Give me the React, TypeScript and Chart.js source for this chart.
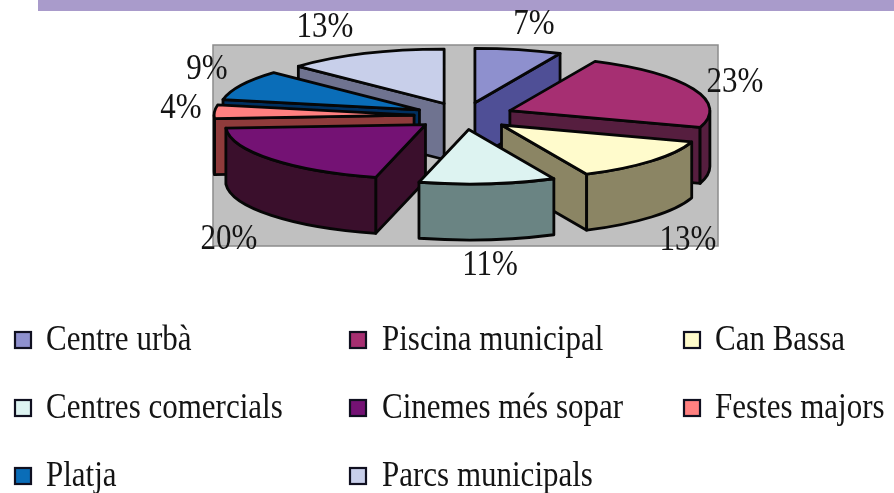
import React, { useEffect, useRef } from "react";
import { Chart, registerables } from "chart.js";

Chart.register(...registerables);

const categories = ["Centre urbà", "Piscina municipal", "Can Bassa", "Centres comercials", "Cinemes més sopar", "Festes majors", "Platja", "Parcs municipals"];
const shares = [7, 23, 13, 11, 20, 4, 9, 13];
const topColors = ["#8E90CE", "#A62F72", "#FFFBCC", "#DDF3F1", "#741274", "#FF8080", "#0A6DB8", "#C8CFEA"];
const sideColors = ["#4F4F96", "#561E3F", "#8B8564", "#6A8483", "#3A0F2C", "#8F3B3B", "#003060", "#6F7390"];
const drawOrder = [7, 0, 6, 5, 1, 4, 2, 3];

const labelCentres = [[534, 25], [735, 83], [688, 241], [490, 266], [229, 240], [181, 109], [207, 70], [325, 28]];
const markerColumns = [15, 350, 684];
const textColumns = [46, 382, 715];
const legendRows = [340, 408, 476];

const TILT = 0.272;
const EXPLODE = 50;
const DEPTH = 56;
const TEXT_FONT = '31px "Liberation Serif"';
const TEXT_STRETCH = 1.14;

function edgeQuad(ctx: CanvasRenderingContext2D, ax: number, ay: number, bx: number, by: number, fill: string) {
  ctx.beginPath();
  ctx.moveTo(ax, ay);
  ctx.lineTo(bx, by);
  ctx.lineTo(bx, by + DEPTH);
  ctx.lineTo(ax, ay + DEPTH);
  ctx.closePath();
  ctx.fillStyle = fill;
  ctx.fill();
  ctx.stroke();
}

function tallText(ctx: CanvasRenderingContext2D, text: string, x: number, y: number) {
  ctx.save();
  ctx.translate(x, y);
  ctx.scale(1, TEXT_STRETCH);
  ctx.fillText(text, 0, 0);
  ctx.restore();
}

const pie3d = {
  id: "pie3d",
  beforeDraw(chart: any) {
    const ctx: CanvasRenderingContext2D = chart.ctx;
    ctx.save();
    ctx.fillStyle = "#ffffff";
    ctx.fillRect(0, 0, chart.width, chart.height);
    ctx.fillStyle = "#A99BCB";
    ctx.fillRect(38, 0, chart.width - 38, 11);
    ctx.fillStyle = "#C0C0C0";
    ctx.strokeStyle = "#8C8C8C";
    ctx.lineWidth = 1.5;
    ctx.fillRect(213, 45, 505, 201);
    ctx.strokeRect(213, 45, 505, 201);
    ctx.restore();
  },
  beforeDatasetsDraw(chart: any) {
    const ctx: CanvasRenderingContext2D = chart.ctx;
    const arcs = chart.getDatasetMeta(0).data;
    ctx.save();
    ctx.lineWidth = 2.8;
    ctx.strokeStyle = "#060606";
    ctx.lineJoin = "round";
    for (const i of drawOrder) {
      const arc = arcs[i];
      const { x, y, startAngle: a, endAngle: b, outerRadius: R } = arc;
      const mid = (a + b) / 2;
      const cx = x + Math.cos(mid) * EXPLODE;
      const cy = y + Math.sin(mid) * EXPLODE * TILT;
      const rY = R * TILT;
      const px = (t: number) => cx + Math.cos(t) * R;
      const py = (t: number) => cy + Math.sin(t) * rY;

      if (-Math.cos(a) > 0) edgeQuad(ctx, cx, cy, px(a), py(a), sideColors[i]);
      if (Math.cos(b) > 0) edgeQuad(ctx, cx, cy, px(b), py(b), sideColors[i]);

      const lo = Math.max(a, 0);
      const hi = Math.min(b, Math.PI);
      if (hi > lo) {
        ctx.beginPath();
        ctx.ellipse(cx, cy, R, rY, 0, lo, hi);
        ctx.ellipse(cx, cy + DEPTH, R, rY, 0, hi, lo, true);
        ctx.closePath();
        ctx.fillStyle = sideColors[i];
        ctx.fill();
        ctx.stroke();
      }

      ctx.save();
      ctx.translate(cx, cy);
      ctx.scale(1, TILT);
      ctx.translate(-x, -y);
      arc.draw(ctx);
      ctx.restore();

      ctx.beginPath();
      ctx.moveTo(cx, cy);
      ctx.ellipse(cx, cy, R, rY, 0, a, b);
      ctx.closePath();
      ctx.stroke();
    }
    ctx.restore();
    return false;
  },
  afterDraw(chart: any) {
    const ctx: CanvasRenderingContext2D = chart.ctx;
    ctx.save();
    ctx.font = TEXT_FONT;
    ctx.fillStyle = "#141414";
    ctx.textBaseline = "middle";
    ctx.textAlign = "center";
    shares.forEach((v, i) => {
      tallText(ctx, `${v}%`, labelCentres[i][0], labelCentres[i][1]);
    });
    ctx.textAlign = "left";
    categories.forEach((name, i) => {
      const col = i % 3;
      const my = legendRows[Math.floor(i / 3)];
      ctx.fillStyle = topColors[i];
      ctx.strokeStyle = "#101020";
      ctx.lineWidth = 2.2;
      ctx.fillRect(markerColumns[col], my - 8, 16, 16);
      ctx.strokeRect(markerColumns[col], my - 8, 16, 16);
      ctx.fillStyle = "#141414";
      tallText(ctx, name, textColumns[col], my + 1);
    });
    ctx.restore();
  },
};

export default function App() {
  const ref = useRef<HTMLCanvasElement>(null);
  useEffect(() => {
    const chart = new Chart(ref.current as HTMLCanvasElement, {
      type: "pie",
      data: {
        labels: categories,
        datasets: [{ data: shares, backgroundColor: topColors, borderWidth: 0 }],
      },
      options: {
        animation: false,
        responsive: false,
        radius: 200,
        layout: { padding: { left: 34, right: 0, top: 0, bottom: 261 } },
        plugins: { legend: { display: false }, tooltip: { enabled: false } },
      } as any,
      plugins: [pie3d as any],
    });
    return () => chart.destroy();
  }, []);
  return (
    <div style={{ position: "fixed", left: 0, top: 0, width: 894, height: 493, background: "#fff" }}>
      <canvas ref={ref} width={894} height={493} style={{ display: "block", filter: "blur(0.4px)" }} />
    </div>
  );
}
